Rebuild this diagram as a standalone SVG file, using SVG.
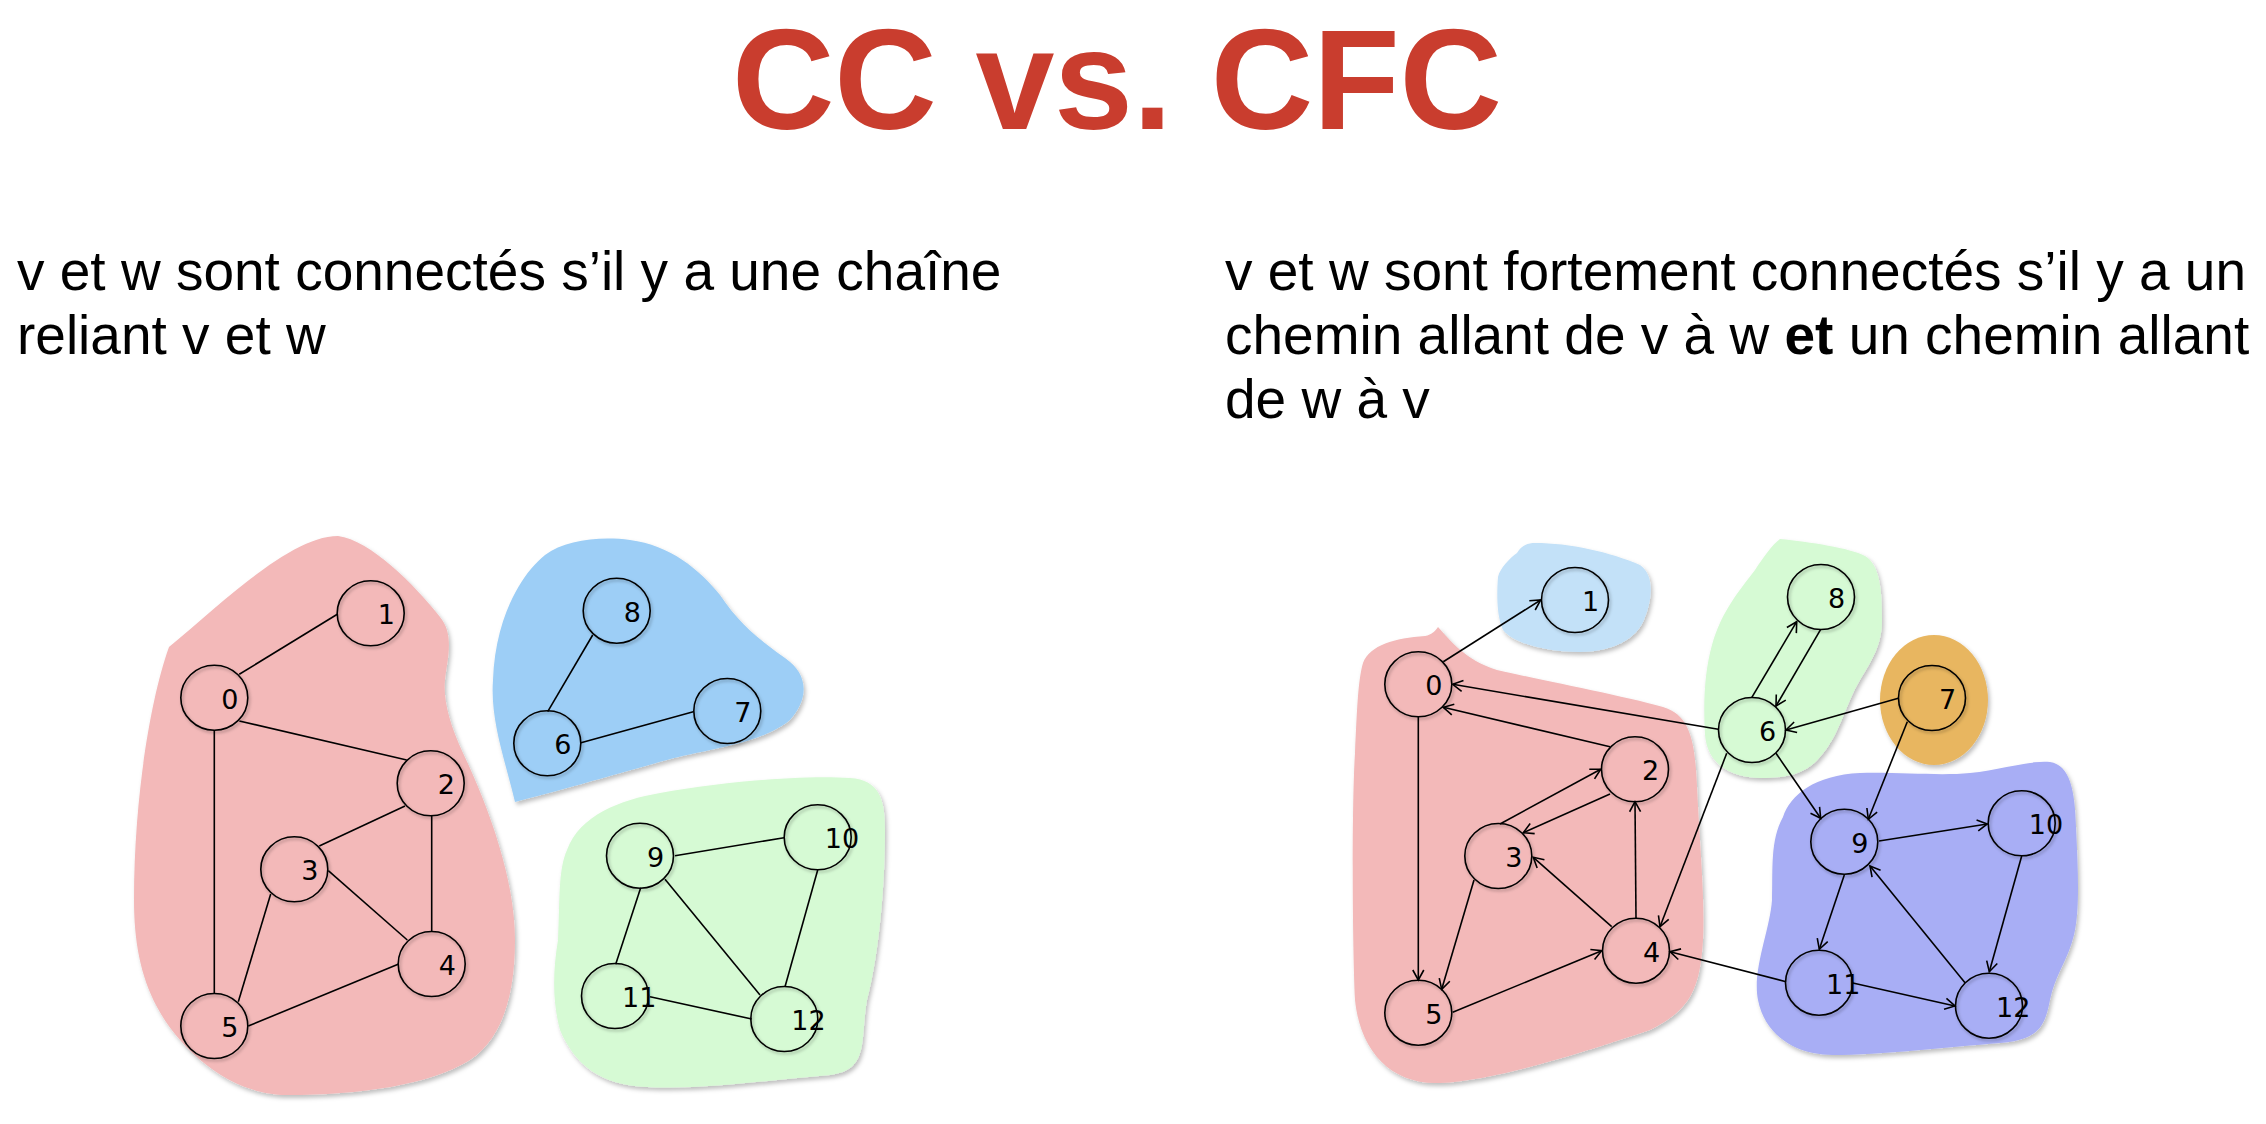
<svg xmlns="http://www.w3.org/2000/svg" width="2266" height="1124" viewBox="0 0 2266 1124">
<style>
.title{font-family:"Liberation Sans",Arial,sans-serif;font-weight:bold;font-size:142px;fill:#C93D2E}
.body{font-family:"Liberation Sans",Arial,sans-serif;font-size:55px;fill:#000}
.node ellipse{fill:none;stroke:#000;stroke-width:1.6;filter:url(#sh)}
.node text{font-family:"DejaVu Sans",Verdana,sans-serif;font-size:27px;fill:#000}
.blob{filter:url(#shb)}
.edges line{stroke:#000;stroke-width:1.6}
.arr line{marker-end:url(#ah)}
</style>
<defs>
<filter id="sh" x="-20%" y="-20%" width="150%" height="150%"><feDropShadow dx="1.5" dy="2" stdDeviation="1.5" flood-color="#000" flood-opacity="0.3"/></filter>
<filter id="shb" x="-10%" y="-10%" width="125%" height="125%"><feDropShadow dx="2" dy="3" stdDeviation="2" flood-color="#000" flood-opacity="0.25"/></filter>
<marker id="ah" markerUnits="userSpaceOnUse" markerWidth="14" markerHeight="14" viewBox="0 0 14 14" refX="12" refY="7" orient="auto">
<path d="M2,1.5 L12,7 L2,12.5" fill="none" stroke="#000" stroke-width="1.6"/>
</marker>
</defs>
<rect width="2266" height="1124" fill="#fff"/>

<text class="title" x="732" y="129" textLength="770" lengthAdjust="spacing">CC vs. CFC</text>

<text class="body" x="17" y="290">v et w sont connectés s’il y a une chaîne</text>
<text class="body" x="17" y="354">reliant v et w</text>
<text class="body" x="1225" y="290">v et w sont fortement connectés s’il y a un</text>
<text class="body" x="1225" y="354">chemin allant de v à w <tspan font-weight="bold">et</tspan> un chemin allant</text>
<text class="body" x="1225" y="418">de w à v</text>

<g id="components">
<path class="blob" fill="#F3B9B9" d="M338,536 C370,540 415,585 440,617 C455,635 447,660 445,680 C443,700 450,725 463,753 C490,810 515,880 515,940 C515,1000 500,1040 470,1060 C430,1085 360,1095 287,1095 C230,1095 180,1050 157,1007 C140,975 134,940 134,900 C134,800 150,700 169,647 C220,605 290,536 338,536 Z"/>
<path class="blob" fill="#9DCEF6" d="M515,802 C505,760 490,720 493,680 C495,620 520,575 545,555 C565,540 600,536 630,540 C670,545 700,570 720,595 C740,625 760,640 785,658 C810,675 808,700 790,720 C760,745 700,750 667,760 C630,770 580,785 515,802 Z"/>
<path class="blob" fill="#D6FAD4" d="M567,850 C580,815 620,800 660,793 C720,782 800,775 850,778 C880,780 885,800 885,830 C885,880 880,950 867,1000 C860,1040 870,1070 830,1075 C770,1080 700,1090 647,1087 C600,1085 575,1065 560,1030 C552,1000 553,970 558,940 C560,900 558,870 567,850 Z"/>
<path class="blob" fill="#F3B9B9" d="M1363,663 C1370,645 1395,638 1425,636 C1432,635 1436,630 1438,627 C1450,640 1465,660 1497,670 C1540,680 1620,695 1663,707 C1690,715 1695,740 1697,787 C1700,850 1705,900 1703,940 C1700,990 1690,1010 1650,1030 C1590,1050 1500,1080 1440,1083 C1390,1085 1360,1050 1355,1000 C1352,930 1352,800 1355,753 C1357,710 1358,680 1363,663 Z"/>
<path class="blob" fill="#C3E1F8" d="M1517,553 C1522,545 1528,543 1535,543 C1570,543 1610,552 1640,565 C1655,575 1652,600 1645,617 C1638,640 1610,652 1580,652 C1550,652 1515,645 1503,630 C1496,615 1497,590 1498,577 C1500,568 1510,558 1517,553 Z"/>
<path class="blob" fill="#D6FAD4" d="M1780,539 C1810,542 1850,548 1865,556 C1880,565 1882,590 1882,620 C1882,645 1872,660 1860,680 C1845,705 1840,735 1820,757 C1805,775 1785,778 1760,778 C1725,777 1707,760 1705,735 C1703,700 1705,670 1712,645 C1722,610 1740,590 1755,570 C1765,555 1772,545 1780,539 Z"/>
<ellipse class="blob" fill="#E8B660" cx="1934" cy="700" rx="54" ry="65"/>
<path class="blob" fill="#A8AEF5" d="M1783,817 C1790,795 1815,775 1860,773 C1900,772 1940,776 1970,773 C2000,770 2030,760 2050,762 C2070,765 2075,790 2076,827 C2078,870 2080,910 2074,935 C2068,960 2055,975 2050,1000 C2045,1025 2040,1040 2000,1043 C1950,1047 1880,1055 1833,1055 C1795,1055 1765,1035 1758,1000 C1752,970 1770,930 1772,900 C1773,870 1770,840 1783,817 Z"/>
</g>

<g id="connectors" class="edges">
<line x1="239.3" y1="674.3" x2="337.3" y2="614.3"/>
<line x1="239.3" y1="721" x2="406.7" y2="760"/>
<line x1="214.3" y1="730" x2="214.3" y2="994"/>
<line x1="319.3" y1="846" x2="405" y2="806"/>
<line x1="431.7" y1="816" x2="431.7" y2="931.7"/>
<line x1="328.3" y1="870.7" x2="407.3" y2="940"/>
<line x1="270.7" y1="894" x2="238.3" y2="1001.7"/>
<line x1="248.3" y1="1026" x2="398.7" y2="964"/>
<line x1="592.7" y1="635" x2="547.7" y2="711.7"/>
<line x1="581" y1="742.7" x2="693.3" y2="711.7"/>
<line x1="675" y1="855.7" x2="784" y2="837.7"/>
<line x1="640.7" y1="887.7" x2="615.7" y2="964.3"/>
<line x1="665" y1="879.3" x2="760" y2="995"/>
<line x1="817.7" y1="870" x2="785" y2="986.7"/>
<line x1="650" y1="996.7" x2="751.7" y2="1019"/>
<g class="arr">
<line x1="1443.3" y1="661.7" x2="1540.7" y2="600"/>
<line x1="1718.3" y1="729.3" x2="1452.7" y2="684.3"/>
<line x1="1610" y1="746.7" x2="1443.3" y2="707.3"/>
<line x1="1418.3" y1="716.7" x2="1418.3" y2="980"/>
<line x1="1500" y1="824" x2="1600.7" y2="769.3"/>
<line x1="1610" y1="794" x2="1523.3" y2="832.7"/>
<line x1="1636" y1="918.3" x2="1635" y2="801.7"/>
<line x1="1726.7" y1="753.3" x2="1660" y2="926.7"/>
<line x1="1474" y1="880" x2="1441.7" y2="989.3"/>
<line x1="1611.7" y1="926.7" x2="1533.3" y2="857.3"/>
<line x1="1452.7" y1="1012.3" x2="1601.7" y2="950.7"/>
<line x1="1786" y1="981.7" x2="1670" y2="951.7"/>
<line x1="1751.7" y1="697.7" x2="1796.7" y2="621.7"/>
<line x1="1820.7" y1="629.3" x2="1776" y2="706"/>
<line x1="1898.3" y1="698.3" x2="1786" y2="730"/>
<line x1="1907.3" y1="721.7" x2="1868.3" y2="819.3"/>
<line x1="1776" y1="753.3" x2="1820.7" y2="818.3"/>
<line x1="1879" y1="841" x2="1987.3" y2="824"/>
<line x1="2021.7" y1="856" x2="1989.3" y2="971.7"/>
<line x1="1965" y1="982.7" x2="1870" y2="866"/>
<line x1="1844.3" y1="875" x2="1819.3" y2="949.3"/>
<line x1="1851.7" y1="982.7" x2="1955" y2="1006"/>
</g>
</g>

<g id="L0" class="node" transform="translate(214.3,697.7)"><ellipse rx="33.5" ry="32.5"/><text x="7" y="11">0</text></g>
<g id="L1" class="node" transform="translate(370.7,613.3)"><ellipse rx="33.5" ry="32.5"/><text x="7" y="11">1</text></g>
<g id="L2" class="node" transform="translate(430.7,783.3)"><ellipse rx="33.5" ry="32.5"/><text x="7" y="11">2</text></g>
<g id="L3" class="node" transform="translate(294.3,869.3)"><ellipse rx="33.5" ry="32.5"/><text x="7" y="11">3</text></g>
<g id="L4" class="node" transform="translate(431.7,964)"><ellipse rx="33.5" ry="32.5"/><text x="7" y="11">4</text></g>
<g id="L5" class="node" transform="translate(214.3,1026)"><ellipse rx="33.5" ry="32.5"/><text x="7" y="11">5</text></g>
<g id="L6" class="node" transform="translate(547.3,743.3)"><ellipse rx="33.5" ry="32.5"/><text x="7" y="11">6</text></g>
<g id="L7" class="node" transform="translate(727.3,711)"><ellipse rx="33.5" ry="32.5"/><text x="7" y="11">7</text></g>
<g id="L8" class="node" transform="translate(616.7,610.7)"><ellipse rx="33.5" ry="32.5"/><text x="7" y="11">8</text></g>
<g id="L9" class="node" transform="translate(640,855.7)"><ellipse rx="33.5" ry="32.5"/><text x="7" y="11">9</text></g>
<g id="L10" class="node" transform="translate(817.7,837.3)"><ellipse rx="33.5" ry="32.5"/><text x="7" y="11">10</text></g>
<g id="L11" class="node" transform="translate(615,996)"><ellipse rx="33.5" ry="32.5"/><text x="7" y="11">11</text></g>
<g id="L12" class="node" transform="translate(784.3,1019)"><ellipse rx="33.5" ry="32.5"/><text x="7" y="11">12</text></g>

<g id="R0" class="node" transform="translate(1418.3,684.3)"><ellipse rx="33.5" ry="32.5"/><text x="7" y="11">0</text></g>
<g id="R1" class="node" transform="translate(1575,600)"><ellipse rx="33.5" ry="32.5"/><text x="7" y="11">1</text></g>
<g id="R2" class="node" transform="translate(1635,769.3)"><ellipse rx="33.5" ry="32.5"/><text x="7" y="11">2</text></g>
<g id="R3" class="node" transform="translate(1498.3,856)"><ellipse rx="33.5" ry="32.5"/><text x="7" y="11">3</text></g>
<g id="R4" class="node" transform="translate(1636,950.7)"><ellipse rx="33.5" ry="32.5"/><text x="7" y="11">4</text></g>
<g id="R5" class="node" transform="translate(1418.3,1012.7)"><ellipse rx="33.5" ry="32.5"/><text x="7" y="11">5</text></g>
<g id="R6" class="node" transform="translate(1752,730)"><ellipse rx="33.5" ry="32.5"/><text x="7" y="11">6</text></g>
<g id="R7" class="node" transform="translate(1932,698)"><ellipse rx="33.5" ry="32.5"/><text x="7" y="11">7</text></g>
<g id="R8" class="node" transform="translate(1821,597)"><ellipse rx="33.5" ry="32.5"/><text x="7" y="11">8</text></g>
<g id="R9" class="node" transform="translate(1844.3,841.7)"><ellipse rx="33.5" ry="32.5"/><text x="7" y="11">9</text></g>
<g id="R10" class="node" transform="translate(2021.7,823.3)"><ellipse rx="33.5" ry="32.5"/><text x="7" y="11">10</text></g>
<g id="R11" class="node" transform="translate(1819,982.7)"><ellipse rx="33.5" ry="32.5"/><text x="7" y="11">11</text></g>
<g id="R12" class="node" transform="translate(1989,1005.7)"><ellipse rx="33.5" ry="32.5"/><text x="7" y="11">12</text></g>
</svg>
